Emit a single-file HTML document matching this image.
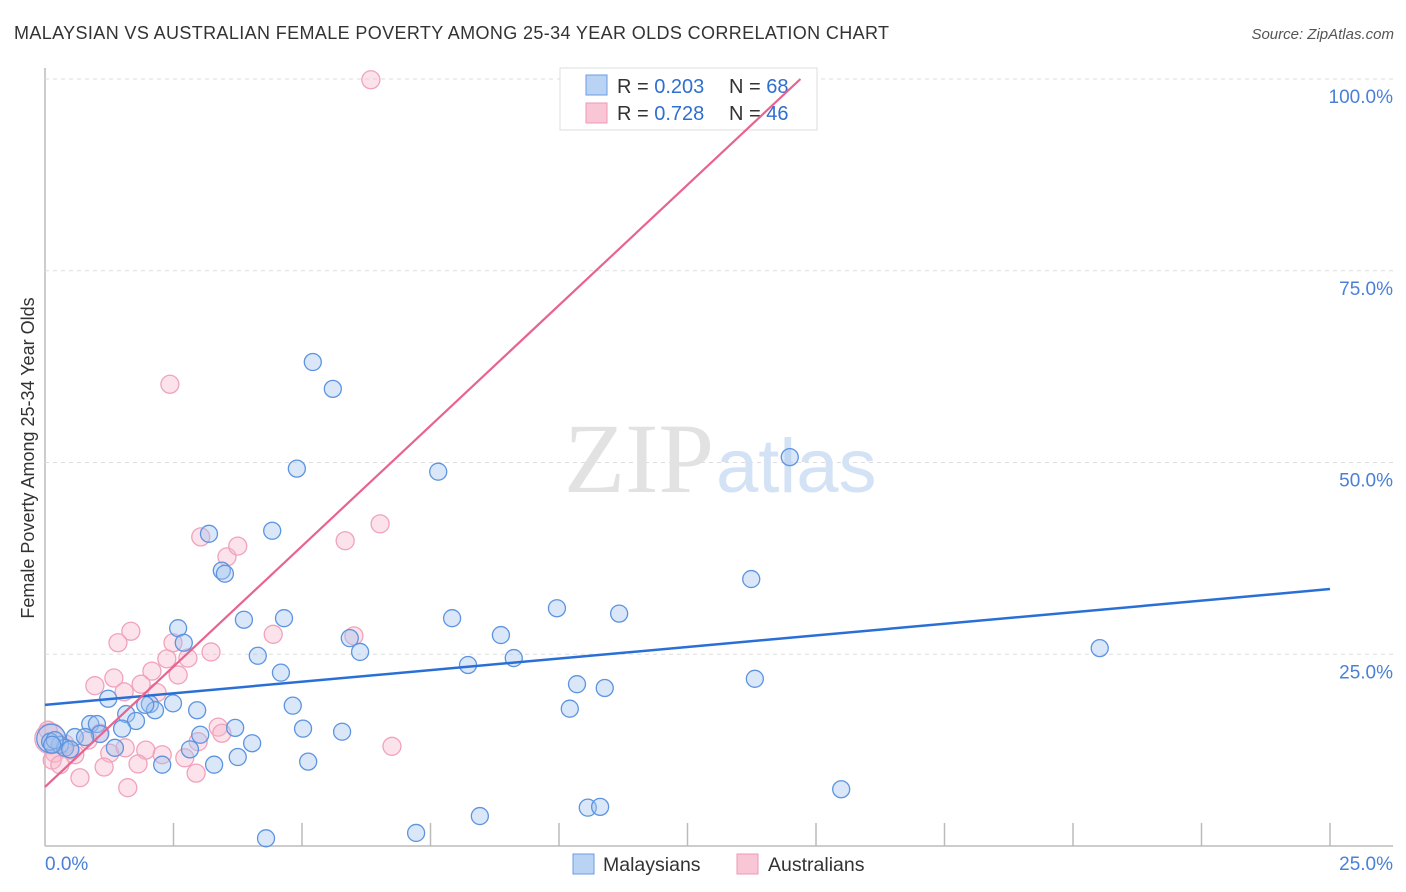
<!DOCTYPE html>
<html><head><meta charset="utf-8"><style>
body{margin:0;background:#fff;font-family:"Liberation Sans",sans-serif;}
svg{display:block}
</style></head><body>
<svg id="chart" width="1406" height="892" xmlns="http://www.w3.org/2000/svg">
<text x="14" y="39" font-size="18" fill="#333" textLength="875">MALAYSIAN VS AUSTRALIAN FEMALE POVERTY AMONG 25-34 YEAR OLDS CORRELATION CHART</text>
<text x="1394" y="39" font-size="15" fill="#555" font-style="italic" text-anchor="end">Source: ZipAtlas.com</text>
<text x="34" y="458" font-size="18" fill="#333" text-anchor="middle" transform="rotate(-90 34 458)">Female Poverty Among 25-34 Year Olds</text>
<g id="grid"></g>
<text x="714" y="492" font-size="100" font-family="Liberation Serif,serif" fill="#e2e2e2" text-anchor="end">ZIP</text>
<text x="716" y="492" font-size="76" fill="#d3e2f5">atlas</text>
<g>
<rect x="560" y="68" width="257" height="62" fill="#fff" stroke="#ddd"/>
<rect x="586" y="75" width="21" height="20" fill="#b9d3f5" stroke="#6a9be0"/>
<rect x="586" y="103" width="21" height="20" fill="#f8c6d5" stroke="#ee9ab5"/>
<text x="617" y="93" font-size="20" fill="#333">R = <tspan fill="#2f6fd0">0.203</tspan></text>
<text x="729" y="93" font-size="20" fill="#333">N = <tspan fill="#2f6fd0">68</tspan></text>
<text x="617" y="120" font-size="20" fill="#333">R = <tspan fill="#2f6fd0"> 0.728</tspan></text>
<text x="729" y="120" font-size="20" fill="#333">N = <tspan fill="#2f6fd0">46</tspan></text>
</g>
<g id="pts"></g>
<g id="lines"></g>
<g>
<rect x="573" y="854" width="21" height="20" fill="#b9d3f5" stroke="#6a9be0"/>
<text x="603" y="871" font-size="19.5" fill="#333">Malaysians</text>
<rect x="737" y="854" width="21" height="20" fill="#f8c6d5" stroke="#ee9ab5"/>
<text x="768" y="871" font-size="19.5" fill="#333">Australians</text>
</g>
</svg>
<script>
const yTicks=[25,50,75,100];
const yTickLabels=["25.0%","50.0%","75.0%","100.0%"];
const xTicks=[0,2.5,5,7.5,10,12.5,15,17.5,20,22.5,25];
const xEndLabels=["0.0%","25.0%"];
const blueX=[0.12,5.21,5.60,4.90,7.65,14.49,3.19,4.42,3.44,3.50,13.74,9.96,7.92,11.17,2.59,3.87,4.65,8.87,5.93,6.13,2.70,4.14,9.12,8.23,4.59,20.52,10.35,10.89,13.81,1.23,4.82,10.21,2.49,2.96,2.04,2.14,1.58,1.77,0.88,1.01,1.50,3.70,5.02,5.78,3.02,0.58,1.07,4.03,1.36,2.82,0.29,0.39,0.49,0.10,0.19,3.75,5.12,2.28,3.29,15.49,8.46,10.56,10.80,7.22,4.30,0.14,0.78,1.95];
const blueY=[14.0,63.1,59.6,49.2,48.8,50.7,40.7,41.1,35.9,35.5,34.8,31.0,29.7,30.3,28.4,29.5,29.7,27.5,27.1,25.3,26.5,24.8,24.5,23.6,22.6,25.8,21.1,20.6,21.8,19.2,18.3,17.9,18.6,17.7,18.5,17.7,17.2,16.3,15.9,15.9,15.3,15.4,15.3,14.9,14.5,14.2,14.6,13.4,12.8,12.6,13.2,12.8,12.6,13.6,13.8,11.6,11.0,10.6,10.6,7.4,3.9,5.0,5.1,1.7,1.0,13.2,14.2,18.4];
const pinkX=[0.10,6.34,2.43,6.52,5.84,3.54,3.75,3.03,1.67,1.42,4.44,6.01,2.49,3.23,2.78,2.37,2.08,2.59,1.34,0.97,1.54,1.87,2.18,2.98,3.37,3.44,1.96,2.28,1.26,1.56,0.84,0.49,0.19,0.14,0.29,0.68,1.15,1.61,1.81,2.72,2.94,6.75,1.07,0.39,0.58,0.06];
const pinkY=[14.0,99.9,60.2,42.0,39.8,37.7,39.1,40.3,28.0,26.5,27.6,27.4,26.5,25.3,24.5,24.4,22.8,22.3,21.9,20.9,20.1,21.1,20.0,13.6,15.5,14.7,12.5,11.9,12.1,12.8,13.8,12.5,12.1,11.2,10.6,8.9,10.3,7.6,10.7,11.5,9.5,13.0,14.7,13.3,11.9,15.1];
const blueSize=[2];
const pinkSize=[2];
const blueTrend=[18.4,33.5]; // y at x=0, x=25
const pinkTrend=[7.7,6.28]; // intercept, slope
const NS="http://www.w3.org/2000/svg";
const X0=45,X1=1330,Y0=846,Y100=79;
const sx=v=>X0+(v/25)*(X1-X0);
const sy=v=>Y0-(v/100)*(Y0-Y100);
function mk(t,a,p){const e=document.createElementNS(NS,t);for(const k in a)e.setAttribute(k,a[k]);p.appendChild(e);return e;}
const grid=document.getElementById('grid');
mk('line',{x1:X0,y1:68,x2:X0,y2:Y0,stroke:'#bbb','stroke-width':1.5},grid);
mk('line',{x1:X0,y1:Y0,x2:1393,y2:Y0,stroke:'#bbb','stroke-width':1.5},grid);
yTicks.forEach((t,i)=>{
 const l=mk('line',{x1:X0,y1:sy(t),x2:1393,y2:sy(t),stroke:'#ddd','stroke-dasharray':'4,4'},grid);
 
 
 const tx=mk('text',{x:1393,y:sy(t)+24,'font-size':19,fill:'#4a80d8','text-anchor':'end'},grid);
 tx.textContent=yTickLabels[i];
 
 
});
xTicks.forEach(t=>{
 if(t===0)return;
 const l=mk('line',{x1:sx(t),y1:823,x2:sx(t),y2:Y0,stroke:'#bbb','stroke-width':1.5},grid);
 
 
});
const xl0=mk('text',{x:45,y:870,'font-size':19,fill:'#4a80d8'},grid);xl0.textContent=xEndLabels[0];


const xl1=mk('text',{x:1393,y:870,'font-size':19,fill:'#4a80d8','text-anchor':'end'},grid);xl1.textContent=xEndLabels[1];


const pts=document.getElementById('pts');
pinkX.forEach((x,i)=>{
 const r=9*(pinkSize[i]||1)*(i===0?0.85:1);
 const c=mk('circle',{cx:sx(x),cy:sy(pinkY[i]),r:r,fill:'rgba(248,182,202,0.4)',stroke:'#f0a3bb','stroke-width':1.3},pts);
 
 
});
blueX.forEach((x,i)=>{
 const r=8.5*(blueSize[i]||1)*(i===0?0.85:1);
 const c=mk('circle',{cx:sx(x),cy:sy(blueY[i]),r:r,fill:'rgba(160,196,240,0.4)',stroke:'#5d94e0','stroke-width':1.3},pts);
 
 
});
const lines=document.getElementById('lines');
const bl=mk('line',{x1:sx(0),y1:sy(blueTrend[0]),x2:sx(25),y2:sy(blueTrend[1]),stroke:'#2a6fd6','stroke-width':2.5},lines);


const xEnd=(100-pinkTrend[0])/pinkTrend[1];
const pl=mk('line',{x1:sx(0),y1:sy(pinkTrend[0]),x2:sx(xEnd),y2:sy(100),stroke:'#e8638f','stroke-width':2.2},lines);


</script>
</body></html>
